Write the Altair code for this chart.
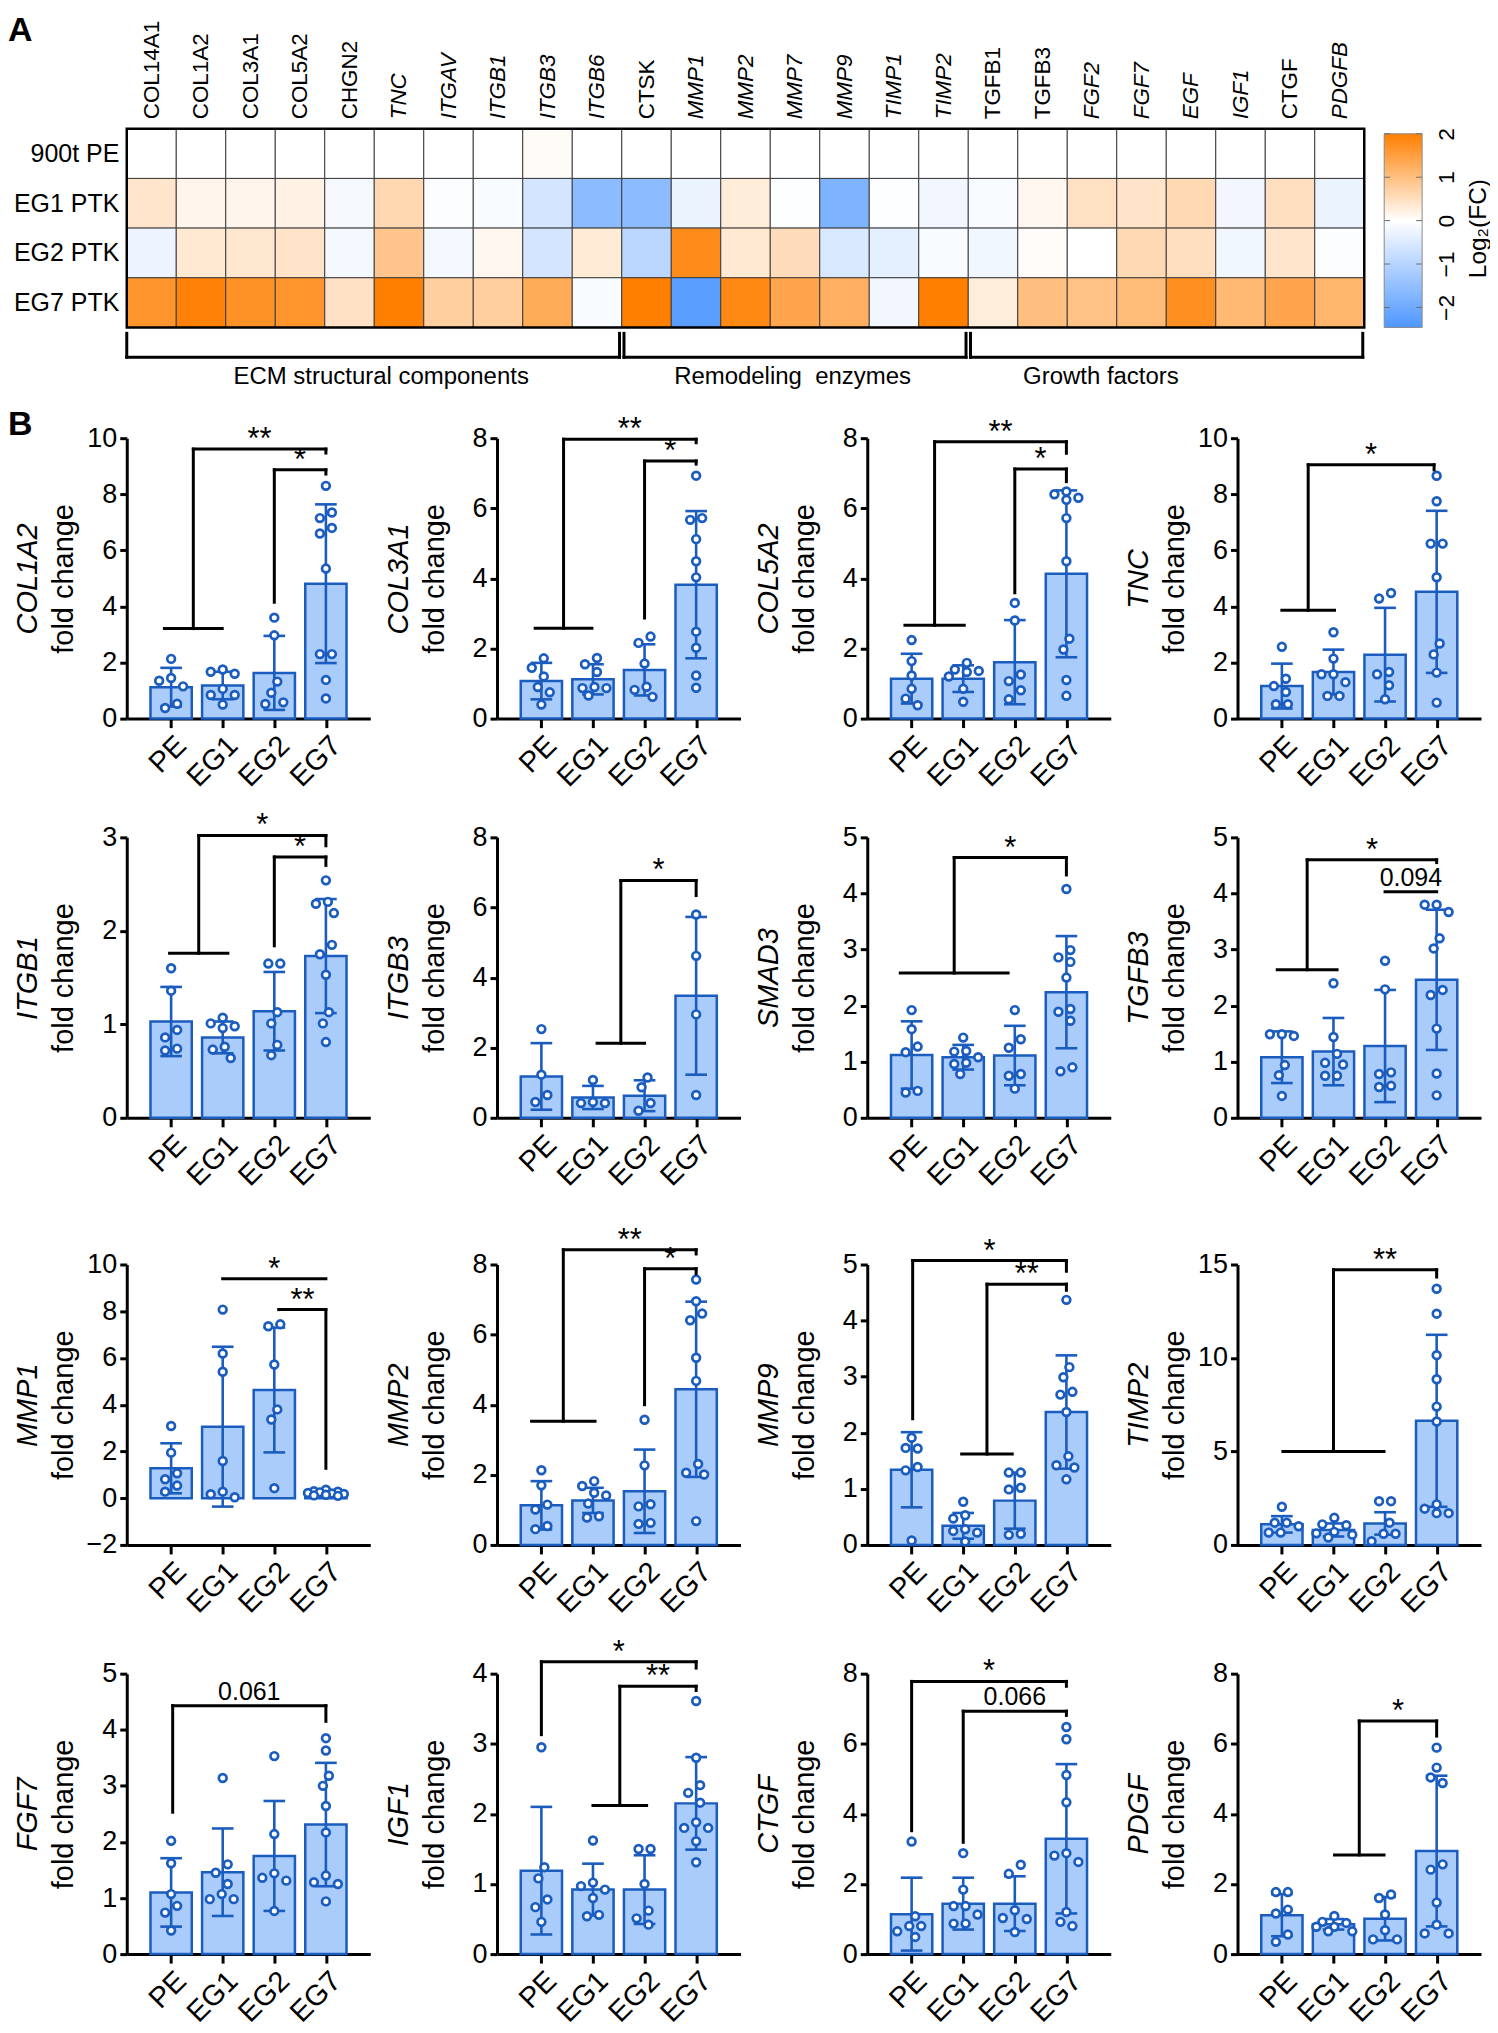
import math
import altair as alt
import pandas as pd

FONT = "Liberation Sans"
LINE_BLUE = "#1B5CBF"
BAR_FILL = "#A9CCFA"
ORANGE = "#FF7F00"
BLUE_END = "#4E97FF"

# ---------------- Panel A : heat map data ----------------
genes = ["COL14A1", "COL1A2", "COL3A1", "COL5A2", "CHGN2", "TNC", "ITGAV", "ITGB1",
         "ITGB3", "ITGB6", "CTSK", "MMP1", "MMP2", "MMP7", "MMP9", "TIMP1", "TIMP2",
         "TGFB1", "TGFB3", "FGF2", "FGF7", "EGF", "IGF1", "CTGF", "PDGFB"]
upright_genes = ["COL14A1", "COL1A2", "COL3A1", "COL5A2", "CHGN2", "CTSK", "TGFB1", "TGFB3", "CTGF"]
heat_rows = ["900t PE", "EG1 PTK", "EG2 PTK", "EG7 PTK"]
fc_pe = [0, 0, 0, 0, 0, 0, 0, 0, 0.06, 0, 0, 0, 0, 0, 0, 0, 0, 0, 0, 0, 0, 0, 0, 0, 0]
fc_eg1 = [0.40, 0.15, 0.15, 0.22, -0.12, 0.62, -0.05, -0.10, -0.60, -1.60, -1.60, -0.28, 0.30,
          -0.03, -1.80, -0.03, -0.18, -0.10, 0.12, 0.48, 0.42, 0.60, -0.18, 0.50, -0.28]
fc_eg2 = [-0.25, 0.35, 0.38, 0.42, -0.15, 0.90, -0.15, 0.12, -0.60, 0.32, -0.95, 1.80, 0.35,
          0.55, -0.55, -0.38, -0.10, -0.20, 0.05, 0.00, 0.60, 0.50, -0.20, 0.40, -0.05]
fc_eg7 = [1.65, 1.95, 1.70, 1.65, 0.45, 2.00, 0.75, 0.75, 1.30, -0.10, 2.00, -2.30, 1.85,
          1.40, 1.25, -0.18, 2.00, 0.28, 1.00, 0.95, 1.05, 1.75, 1.10, 1.40, 1.15]
categories = ["ECM structural components", "Remodeling\u00a0 enzymes", "Growth factors"]
category_sizes = [10, 7, 8]
category_label_x = [5.14, 13.45, 19.68]
cbar_min, cbar_max = -2.46, 2.0

# ---------------- Panel B : bar chart data ----------------
groups = ["PE", "EG1", "EG2", "EG7"]

col1a2_mean = [1.12, 1.18, 1.63, 4.81]
col1a2_sd = [0.69, 0.49, 1.32, 2.83]
col1a2_pts = [[2.13, 1.45, 1.35, 1.15, 0.53, 0.38], [1.75, 1.67, 1.6, 1.06, 0.84, 0.84, 0.5],
              [3.6, 2.97, 1.32, 0.92, 0.58, 0.52], [8.3, 7.35, 7.15, 6.8, 6.6, 5.35, 2.3, 2.3, 1.38, 0.72]]
col1a2_sig = [("g", -0.13, 0.99, 3.21, 9.61, 3.0, 9.47, "**"), ("p", 2.0, 4.15, 8.87, 3.0, 8.72, "*")]

col3a1_mean = [1.07, 1.12, 1.39, 3.82]
col3a1_sd = [0.52, 0.43, 0.73, 2.1]
col3a1_pts = [[1.72, 1.45, 1.2, 0.9, 0.75, 0.4], [1.73, 1.55, 1.33, 0.9, 0.87, 0.87, 0.66],
              [2.34, 2.16, 1.57, 0.91, 0.82, 0.62], [6.93, 5.72, 5.67, 5.12, 4.49, 4.03, 2.48, 2.02, 1.23, 0.88]]
col3a1_sig = [("g", -0.12, 0.98, 2.58, 7.97, 3.0, 7.87, "**"), ("p", 2.0, 2.87, 7.35, 3.0, 7.26, "*")]

col5a2_mean = [1.14, 1.14, 1.61, 4.13]
col5a2_sd = [0.71, 0.38, 1.2, 2.38]
col5a2_pts = [[2.24, 1.64, 1.23, 0.85, 0.57, 0.38], [1.59, 1.4, 1.36, 1.33, 1.2, 0.85, 0.48],
              [3.3, 2.8, 1.26, 1.07, 0.81, 0.55], [6.48, 6.4, 6.3, 6.24, 5.72, 4.49, 2.28, 1.97, 1.1, 0.65]]
col5a2_sig = [("g", -0.13, 1.02, 2.66, 7.9, 3.0, 7.57, "**"), ("p", 2.0, 3.59, 7.12, 3.0, 6.76, "*")]

tnc_mean = [1.16, 1.66, 2.28, 4.52]
tnc_sd = [0.8, 0.8, 1.67, 2.89]
tnc_pts = [[2.56, 1.42, 1.16, 0.95, 0.51, 0.51], [3.08, 2.14, 1.58, 1.58, 1.3, 0.81, 0.81],
           [4.48, 4.28, 1.66, 1.58, 1.19, 0.69], [8.66, 7.75, 6.24, 6.24, 5.04, 2.68, 2.29, 1.64, 0.57]]
tnc_sig = [("g", 0.0, 1.02, 3.86, 9.05, 2.95, 8.87, "*")]

itgb1_mean = [1.03, 0.86, 1.14, 1.73]
itgb1_sd = [0.37, 0.17, 0.42, 0.61]
itgb1_pts = [[1.6, 1.36, 0.94, 0.86, 0.74, 0.72], [1.07, 1.01, 0.98, 0.96, 0.76, 0.73, 0.64],
             [1.65, 1.65, 1.13, 1.01, 0.78, 0.67], [2.54, 2.31, 2.29, 2.19, 1.85, 1.75, 1.53, 1.13, 1.01, 0.81]]
itgb1_sig = [("g", -0.03, 1.1, 1.76, 3.02, 3.0, 2.91, "*"), ("p", 2.0, 1.84, 2.79, 3.0, 2.7, "*")]

itgb3_mean = [1.18, 0.58, 0.63, 3.48]
itgb3_sd = [0.95, 0.33, 0.44, 2.25]
itgb3_pts = [[2.53, 1.23, 0.65, 0.45], [1.08, 0.45, 0.42, 0.42], [1.15, 0.87, 0.42, 0.2], [5.8, 4.62, 2.95, 0.65]]
itgb3_sig = [("g", 1.08, 2.0, 2.13, 6.77, 3.0, 6.34, "*")]

smad3_mean = [1.12, 1.08, 1.11, 2.24]
smad3_sd = [0.6, 0.22, 0.53, 1.0]
smad3_pts = [[1.92, 1.58, 1.27, 1.17, 0.48, 0.45], [1.43, 1.19, 1.18, 1.08, 0.98, 0.96, 0.78],
             [1.92, 1.4, 1.25, 0.78, 0.75, 0.52], [4.08, 2.99, 2.86, 2.78, 2.5, 1.94, 1.89, 1.73, 0.9, 0.83]]
smad3_sig = [("g", -0.22, 1.87, 2.58, 4.64, 3.0, 4.33, "*")]

tgfb3_mean = [1.08, 1.18, 1.28, 2.46]
tgfb3_sd = [0.46, 0.6, 1.0, 1.25]
tgfb3_pts = [[1.49, 1.49, 1.46, 0.94, 0.76, 0.39], [2.4, 1.44, 1.14, 0.98, 0.95, 0.75, 0.75],
             [2.8, 2.29, 0.81, 0.78, 0.57, 0.55], [3.8, 3.8, 3.67, 3.2, 3.02, 2.28, 2.19, 1.59, 0.79, 0.4]]
tgfb3_sig = [("g", -0.09, 1.07, 2.64, 4.6, 3.0, 4.55, "*"), ("h", 2.0, 3.0, 4.03, "0.094")]

mmp1_mean = [1.28, 3.06, 4.63, 0.22]
mmp1_sd = [1.07, 3.42, 2.67, 0.09]
mmp1_pts = [[3.09, 1.95, 1.07, 0.81, 0.54, 0.28], [8.07, 6.19, 5.41, 1.59, 0.28, 0.17, 0.04],
            [7.44, 7.36, 5.72, 3.8, 3.37, 0.43], [0.36, 0.3, 0.28, 0.25, 0.22, 0.2, 0.18, 0.15, 0.12, 0.1]]
mmp1_sig = [("h", 1.0, 3.0, 9.39, "*"), ("p", 2.09, 8.07, 8.07, 3.0, 1.28, "**")]

mmp2_mean = [1.13, 1.27, 1.53, 4.44]
mmp2_sd = [0.69, 0.36, 1.19, 2.5]
mmp2_pts = [[2.13, 1.7, 1.15, 1.01, 0.54, 0.45], [1.82, 1.68, 1.49, 1.41, 1.18, 0.82, 0.78],
            [3.57, 2.27, 1.16, 1.1, 0.63, 0.6], [7.57, 6.95, 6.6, 6.41, 5.34, 4.68, 2.31, 2.06, 2.01, 0.68]]
mmp2_sig = [("g", -0.19, 1.04, 3.53, 8.42, 3.0, 8.3, "**"), ("p", 2.0, 4.0, 7.88, 3.0, 7.74, "*")]

mmp9_mean = [1.34, 0.34, 0.79, 2.37]
mmp9_sd = [0.67, 0.23, 0.5, 1.01]
mmp9_pts = [[1.91, 1.73, 1.72, 1.39, 1.33, 0.08], [0.77, 0.53, 0.47, 0.28, 0.25, 0.22, 0.06],
            [1.29, 1.29, 1.02, 0.99, 0.2, 0.18], [4.37, 3.17, 2.99, 2.73, 2.68, 2.37, 1.58, 1.42, 1.38, 1.17]]
mmp9_sig = [("p", 0.02, 2.25, 5.07, 3.0, 4.88, "*"), ("g", 0.97, 1.95, 1.62, 4.65, 3.0, 4.54, "**")]

timp2_mean = [1.1, 0.8, 1.15, 6.64]
timp2_sd = [0.44, 0.35, 0.6, 4.6]
timp2_pts = [[2.04, 1.19, 1.19, 1.0, 0.66, 0.66], [1.45, 1.1, 1.05, 0.7, 0.62, 0.55, 0.4],
             [2.34, 2.34, 1.19, 0.6, 0.6, 0.2], [13.7, 12.37, 10.15, 8.86, 7.4, 6.6, 2.17, 1.94, 1.7, 1.7]]
timp2_sig = [("g", 0.02, 1.98, 5.0, 14.72, 3.0, 14.33, "**")]

fgf7_mean = [1.1, 1.46, 1.75, 2.31]
fgf7_sd = [0.61, 0.78, 0.98, 1.1]
fgf7_pts = [[2.02, 1.62, 1.07, 0.86, 0.74, 0.42], [3.14, 1.6, 1.45, 1.25, 1.07, 0.98, 0.98],
            [3.53, 2.14, 1.44, 1.36, 1.31, 0.77], [3.85, 3.63, 3.18, 3.0, 2.64, 2.17, 1.4, 1.28, 1.25, 0.94]]
fgf7_sig = [("p", 0.03, 2.53, 4.43, 3.0, 4.15, "0.061")]

igf1_mean = [1.19, 0.92, 0.92, 2.15]
igf1_sd = [0.91, 0.37, 0.49, 0.66]
igf1_pts = [[2.95, 1.24, 1.08, 0.78, 0.67, 0.46], [1.62, 1.02, 0.97, 0.92, 0.8, 0.56, 0.54],
            [1.5, 1.5, 1.0, 0.62, 0.51, 0.42], [3.61, 2.8, 2.41, 2.3, 2.16, 1.88, 1.8, 1.8, 1.61, 1.31]]
igf1_sig = [("p", 0.0, 3.13, 4.17, 3.0, 4.08, "*"), ("g", 1.0, 2.04, 2.12, 3.82, 3.0, 3.76, "**")]

ctgf_mean = [1.14, 1.44, 1.44, 3.29]
ctgf_sd = [1.04, 0.74, 0.78, 2.13]
ctgf_pts = [[3.21, 1.08, 0.8, 0.8, 0.65, 0.49], [2.88, 1.84, 1.37, 1.37, 1.13, 0.87, 0.87],
            [2.55, 2.29, 1.25, 1.03, 1.0, 0.63], [6.48, 6.13, 5.11, 4.33, 2.88, 2.81, 2.63, 1.2, 0.92, 0.8]]
ctgf_sig = [("p", 0.0, 3.52, 7.78, 3.0, 7.64, "*"), ("p", 1.0, 3.19, 6.93, 3.0, 6.81, "0.066")]

pdgf_mean = [1.11, 0.85, 1.01, 2.94]
pdgf_sd = [0.6, 0.15, 0.62, 2.15]
pdgf_pts = [[1.77, 1.77, 1.27, 1.16, 0.56, 0.35], [1.09, 0.92, 0.89, 0.78, 0.78, 0.65, 0.65],
            [1.7, 1.6, 1.13, 0.68, 0.42, 0.42], [5.89, 5.32, 5.04, 4.88, 2.56, 2.41, 1.47, 0.84, 0.59, 0.59]]
pdgf_sig = [("g", 1.02, 1.98, 2.83, 6.65, 3.0, 6.22, "*")]

# gene, (ymin, ymax, step)
panel_axes = [
    ("COL1A2", (0, 10, 2)), ("COL3A1", (0, 8, 2)), ("COL5A2", (0, 8, 2)), ("TNC", (0, 10, 2)),
    ("ITGB1", (0, 3, 1)), ("ITGB3", (0, 8, 2)), ("SMAD3", (0, 5, 1)), ("TGFB3", (0, 5, 1)),
    ("MMP1", (-2, 10, 2)), ("MMP2", (0, 8, 2)), ("MMP9", (0, 5, 1)), ("TIMP2", (0, 15, 5)),
    ("FGF7", (0, 5, 1)), ("IGF1", (0, 4, 1)), ("CTGF", (0, 8, 2)), ("PDGF", (0, 8, 2)),
]
panel_data = {
    "COL1A2": (col1a2_mean, col1a2_sd, col1a2_pts, col1a2_sig),
    "COL3A1": (col3a1_mean, col3a1_sd, col3a1_pts, col3a1_sig),
    "COL5A2": (col5a2_mean, col5a2_sd, col5a2_pts, col5a2_sig),
    "TNC": (tnc_mean, tnc_sd, tnc_pts, tnc_sig),
    "ITGB1": (itgb1_mean, itgb1_sd, itgb1_pts, itgb1_sig),
    "ITGB3": (itgb3_mean, itgb3_sd, itgb3_pts, itgb3_sig),
    "SMAD3": (smad3_mean, smad3_sd, smad3_pts, smad3_sig),
    "TGFB3": (tgfb3_mean, tgfb3_sd, tgfb3_pts, tgfb3_sig),
    "MMP1": (mmp1_mean, mmp1_sd, mmp1_pts, mmp1_sig),
    "MMP2": (mmp2_mean, mmp2_sd, mmp2_pts, mmp2_sig),
    "MMP9": (mmp9_mean, mmp9_sd, mmp9_pts, mmp9_sig),
    "TIMP2": (timp2_mean, timp2_sd, timp2_pts, timp2_sig),
    "FGF7": (fgf7_mean, fgf7_sd, fgf7_pts, fgf7_sig),
    "IGF1": (igf1_mean, igf1_sd, igf1_pts, igf1_sig),
    "CTGF": (ctgf_mean, ctgf_sd, ctgf_pts, ctgf_sig),
    "PDGF": (pdgf_mean, pdgf_sd, pdgf_pts, pdgf_sig),
}

# ---------------- layout constants ----------------
PW, PH = 244, 281
XDOM = [-0.86, 3.86]
HM_W, HM_H = 1240, 199


def swarm(vals, ypx, step=12.0, diam=11.5, maxoff=18.0):
    """Beeswarm-style horizontal offsets (pixels) so circles do not overlap."""
    n = len(vals)
    order = sorted(range(n), key=lambda i: -vals[i])
    cands = [0.0]
    k = 1
    while k * step / 2 <= maxoff + 1e-9:
        cands += [-k * step / 2, k * step / 2]
        k += 1
    pos = {}
    for i in order:
        y = vals[i] * ypx
        best, bestd = 0.0, -1.0
        for c in cands:
            d = min([math.hypot(c - px, y - py) for px, py in pos.values()], default=1e9)
            if d >= diam:
                best = c
                break
            if d > bestd:
                best, bestd = c, d
        pos[i] = (best, y)
    parent = list(range(n))

    def find(a):
        while parent[a] != a:
            parent[a] = parent[parent[a]]
            a = parent[a]
        return a

    for i in range(n):
        for j in range(i + 1, n):
            if abs(pos[i][1] - pos[j][1]) < diam:
                parent[find(i)] = find(j)
    comps = {}
    for i in range(n):
        comps.setdefault(find(i), []).append(i)
    out = [0.0] * n
    for members in comps.values():
        mx = sum(pos[m][0] for m in members) / len(members)
        for m in members:
            out[m] = pos[m][0] - mx
    return out


def sig_geometry(sigs):
    segs, labels = [], []
    for s in sigs:
        if s[0] == "g":
            _, a, b, gy, top, xr, yr, lab = s
            mid = (a + b) / 2
            segs += [(a, gy, b, gy), (mid, gy, mid, top), (mid, top, xr, top), (xr, top, xr, yr)]
            labels.append(((mid + xr) / 2, top, lab))
        elif s[0] == "p":
            _, xl, yl, top, xr, yr, lab = s
            segs += [(xl, yl, xl, top), (xl, top, xr, top), (xr, top, xr, yr)]
            labels.append(((xl + xr) / 2, top, lab))
        else:
            _, x1, x2, y, lab = s
            segs.append((x1, y, x2, y))
            labels.append(((x1 + x2) / 2, y, lab))
    sdf = pd.DataFrame(segs, columns=["x1", "y1", "x2", "y2"])
    ldf = pd.DataFrame(labels, columns=["x", "y", "t"])
    return sdf, ldf


def ternary(names, thresholds_from=0.5):
    expr = "'%s'" % names[-1]
    for i in range(len(names) - 2, -1, -1):
        expr = "datum.value < %s ? '%s' : (%s)" % (i + thresholds_from, names[i], expr)
    return expr


def make_panel(gene, yr, means, sds, pts, sigs, letter=None, anchor=False):
    ymin, ymax, ystep = yr
    xs = alt.Scale(domain=XDOM, nice=False, zero=False)
    ys = alt.Scale(domain=[ymin, ymax], nice=False, zero=False)
    px_x = PW / (XDOM[1] - XDOM[0])
    px_y = PH / (ymax - ymin)

    bdf = pd.DataFrame({
        "g": list(range(4)),
        "l": [i - 0.4 for i in range(4)], "r": [i + 0.4 for i in range(4)],
        "cl": [i - 0.21 for i in range(4)], "cr": [i + 0.21 for i in range(4)],
        "m": means, "base": [0.0] * 4,
        "lo": [m - s for m, s in zip(means, sds)], "hi": [m + s for m, s in zip(means, sds)],
    })
    drows = []
    for i in range(4):
        offs = swarm(pts[i], px_y)
        for v, o in zip(pts[i], offs):
            drows.append({"x": i + o / px_x, "v": v})
    ddf = pd.DataFrame(drows)
    sdf, ldf = sig_geometry(sigs)

    n_ticks = int(round((ymax - ymin) / ystep))
    yvals = [ymin + k * ystep for k in range(n_ticks + 1)]

    xaxis = alt.Axis(values=[0, 1, 2, 3], labelExpr=ternary(groups), labelAngle=315, labelAlign="right",
                     labelBaseline="top", labelFontSize=29, labelPadding=3, tickSize=9, tickWidth=3,
                     domainWidth=3, title=None, grid=False, labelFlush=False, labelOverlap=False)
    yaxis = alt.Axis(values=yvals, labelFontSize=27, labelPadding=3, tickSize=7, tickWidth=3,
                     domainWidth=3, title="fold change", titleFontSize=29, titleFontWeight="normal",
                     titlePadding=6, minExtent=42, maxExtent=42, grid=False, labelFlush=False,
                     labelOverlap=False)
    gaxis = alt.Axis(orient="left", domain=False, ticks=False, labels=False, grid=False, title=gene,
                     titleFontSize=29, titleFontStyle="italic", titleFontWeight="normal",
                     titlePadding=84, minExtent=0, maxExtent=0)

    bars = alt.Chart(bdf).mark_rect(fill=BAR_FILL, stroke=LINE_BLUE, strokeWidth=2.5).encode(
        x=alt.X("l:Q", scale=xs, axis=xaxis), x2="r:Q",
        y=alt.Y("m:Q", scale=ys, axis=yaxis), y2="base:Q")
    err = alt.Chart(bdf).mark_rule(color=LINE_BLUE, strokeWidth=2.6).encode(
        x=alt.X("g:Q", axis=None), y=alt.Y("lo:Q", axis=None), y2="hi:Q")
    cap_hi = alt.Chart(bdf).mark_rule(color=LINE_BLUE, strokeWidth=2.6).encode(
        x=alt.X("cl:Q", axis=None), x2="cr:Q", y=alt.Y("hi:Q", axis=None))
    cap_lo = alt.Chart(bdf).mark_rule(color=LINE_BLUE, strokeWidth=2.6).encode(
        x=alt.X("cl:Q", axis=None), x2="cr:Q", y=alt.Y("lo:Q", axis=None))
    dots = alt.Chart(ddf).mark_point(shape="circle", filled=True, fill="white", stroke=LINE_BLUE,
                                     strokeWidth=2.7, size=60, opacity=1).encode(
        x=alt.X("x:Q", axis=None), y=alt.Y("v:Q", axis=gaxis))
    segs = alt.Chart(sdf).mark_rule(color="black", strokeWidth=3, strokeCap="square").encode(
        x=alt.X("x1:Q", axis=None), x2="x2:Q", y=alt.Y("y1:Q", axis=None), y2="y2:Q")
    layers = [bars, err, cap_hi, cap_lo, dots, segs]
    star_df = ldf[ldf["t"].str.startswith("*")]
    num_df = ldf[~ldf["t"].str.startswith("*")]
    if len(star_df):
        layers.append(alt.Chart(star_df).mark_text(fontSize=31, baseline="alphabetic", dy=0,
                                                   color="black").encode(
            x=alt.X("x:Q", axis=None), y=alt.Y("y:Q", axis=None), text="t:N"))
    if len(num_df):
        layers.append(alt.Chart(num_df).mark_text(fontSize=25, baseline="alphabetic", dy=-6,
                                                  color="black").encode(
            x=alt.X("x:Q", axis=None), y=alt.Y("y:Q", axis=None), text="t:N"))
    if letter:
        layers.append(alt.Chart(pd.DataFrame({"t": [letter]})).mark_text(
            fontSize=34, fontWeight="bold", align="left", baseline="top", color="black").encode(
            x=alt.value(-119), y=alt.value(-30), text="t:N"))
    if anchor:
        # invisible glyph that keeps this block's left edge in line with the block above
        layers.append(alt.Chart(pd.DataFrame({"t": ["B"]})).mark_text(
            fontSize=34, fontWeight="bold", align="left", baseline="top", opacity=0).encode(
            x=alt.value(-119), y=alt.value(120), text="t:N"))
    return alt.layer(*layers).resolve_axis(x="independent", y="independent").properties(
        width=PW, height=PH)


# ---------------- heat map ----------------
hrec = []
for r, vals in enumerate([fc_pe, fc_eg1, fc_eg2, fc_eg7]):
    for g, v in enumerate(vals):
        hrec.append({"c0": g, "c1": g + 1, "r0": r, "r1": r + 1, "fc": v})
hdf = pd.DataFrame(hrec)
hx = alt.Scale(domain=[0, len(genes)], nice=False, zero=False)
hy = alt.Scale(domain=[0, len(heat_rows)], reverse=True, nice=False, zero=False)
upright_idx = [genes.index(g) for g in upright_genes]
style_test = " || ".join("floor(datum.value) == %d" % i for i in upright_idx)

heat = alt.Chart(hdf).mark_rect(stroke="#3d3d3d", strokeWidth=1).encode(
    x=alt.X("c0:Q", scale=hx, axis=alt.Axis(
        orient="top", values=[i + 0.5 for i in range(len(genes))], labelExpr=ternary(genes, 1.0),
        labelAngle=270, labelAlign="left", labelBaseline="middle", labelFontSize=22.5,
        labelFontStyle={"condition": {"test": style_test, "value": "normal"}, "value": "italic"},
        labelPadding=10, ticks=False, domain=False, grid=False, title=None, labelFlush=False,
        labelOverlap=False)),
    x2="c1:Q",
    y=alt.Y("r0:Q", scale=hy, axis=alt.Axis(
        values=[0.5, 1.5, 2.5, 3.5], labelExpr=ternary(heat_rows, 1.0), labelFontSize=25, labelPadding=8,
        ticks=False, domain=False, grid=False, title=None, labelFlush=False, labelOverlap=False)),
    y2="r1:Q",
    color=alt.Color("fc:Q", scale=alt.Scale(domain=[cbar_min, 0, cbar_max],
                                            range=[BLUE_END, "#FFFFFF", ORANGE], clamp=True,
                                            interpolate="rgb"),
                    legend=None),
)
border = alt.Chart(pd.DataFrame({"a": [0], "b": [len(genes)], "c": [0], "d": [len(heat_rows)]})).mark_rect(
    fillOpacity=0, stroke="black", strokeWidth=2.5).encode(
    x=alt.X("a:Q", axis=None), x2="b:Q", y=alt.Y("c:Q", axis=None), y2="d:Q")

crow = []
start = 0
gap = 0.045
for size in category_sizes:
    end = start + size
    s = start + (gap if start > 0 else 0.0)
    e = end - (gap if end < len(genes) else 0.03)
    crow += [(s, 4.12, s, 4.6), (e, 4.12, e, 4.6), (s, 4.6, e, 4.6)]
    start = end
cseg_df = pd.DataFrame(crow, columns=["x1", "y1", "x2", "y2"])
cat_segs = alt.Chart(cseg_df).mark_rule(color="black", strokeWidth=3, strokeCap="square").encode(
    x=alt.X("x1:Q", axis=None), x2="x2:Q", y=alt.Y("y1:Q", axis=None), y2="y2:Q")
cat_text = alt.Chart(pd.DataFrame({"x": category_label_x, "y": [4.99] * 3, "t": categories})).mark_text(
    fontSize=24, baseline="middle", align="center", color="black").encode(
    x=alt.X("x:Q", axis=None), y=alt.Y("y:Q", axis=None), text="t:N")
letter_a = alt.Chart(pd.DataFrame({"t": ["A"]})).mark_text(
    fontSize=34, fontWeight="bold", align="left", baseline="top", color="black").encode(
    x=alt.value(-119), y=alt.value(-115), text="t:N")
heat_layer = alt.layer(heat, border, cat_segs, cat_text, letter_a).resolve_axis(
    x="independent", y="independent").properties(width=HM_W, height=HM_H)

# colour bar
white_off = (0 - cbar_min) / (cbar_max - cbar_min)
grad = alt.LinearGradient(gradient="linear", x1=0, x2=0, y1=1, y2=0, stops=[
    alt.GradientStop(color=BLUE_END, offset=0),
    alt.GradientStop(color="#FFFFFF", offset=white_off),
    alt.GradientStop(color=ORANGE, offset=1)])
cscale = alt.Scale(domain=[cbar_min, 2.115], nice=False, zero=False)
cbar = alt.Chart(pd.DataFrame({"lo": [cbar_min], "hi": [cbar_max]})).mark_rect(
    fill=grad, stroke="#8a8a8a", strokeWidth=1).encode(
    x=alt.value(0), x2=alt.value(38),
    y=alt.Y("lo:Q", scale=cscale, axis=alt.Axis(
        orient="right", values=[-2, -1, 0, 1, 2], labelAngle=270, labelAlign="center",
        labelBaseline="top", labelFontSize=23, labelPadding=13, ticks=False, tickSize=0,
        domain=False, grid=False, title="Log\u2082(FC)", titleAngle=270, titleBaseline="top",
        titleFontSize=24.5, titleFontWeight="normal", titlePadding=8, labelFlush=False,
        labelOverlap=False)),
    y2="hi:Q")
tick_df = pd.DataFrame({"t": [-2, -1, 0, 1, 2]})
cticks_l = alt.Chart(tick_df).mark_rule(color="#6e6e6e", strokeWidth=1).encode(
    x=alt.value(0), x2=alt.value(6), y=alt.Y("t:Q", axis=None))
cticks_r = alt.Chart(tick_df).mark_rule(color="#6e6e6e", strokeWidth=1).encode(
    x=alt.value(32), x2=alt.value(38), y=alt.Y("t:Q", axis=None))
cbar_layer = alt.layer(cbar, cticks_l, cticks_r).resolve_axis(y="independent").properties(
    width=38, height=HM_H)

top_row = alt.hconcat(heat_layer, cbar_layer, spacing=20, bounds="flush")

# ---------------- bar panels ----------------
panels = []
for idx, (gene, yr) in enumerate(panel_axes):
    m, s, p, sg = panel_data[gene]
    panels.append(make_panel(gene, yr, m, s, p, sg, letter="B" if idx == 0 else None,
                             anchor=(idx == 8)))
grid_a = alt.concat(*panels[:8], columns=4, spacing={"row": 119, "column": 127}, bounds="flush")
grid_b = alt.concat(*panels[8:], columns=4, spacing={"row": 129, "column": 127}, bounds="flush")
lower = alt.vconcat(grid_a, grid_b, spacing=33)

chart = alt.vconcat(top_row, lower, spacing=19).properties(
    padding={"left": 0, "top": 4, "right": 0, "bottom": 0})
chart = chart.configure(font=FONT).configure_view(stroke=None).configure_axis(
    labelColor="black", titleColor="black", domainColor="black", tickColor="black",
    labelFont=FONT, titleFont=FONT)

chart.save("out.html", embed_options={"renderer": "svg", "actions": False})
